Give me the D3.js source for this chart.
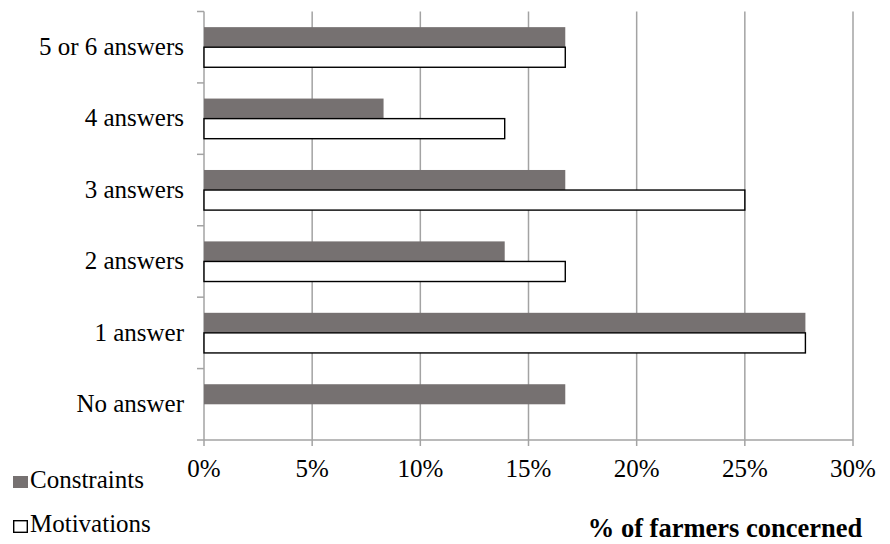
<!DOCTYPE html>
<html>
<head>
<meta charset="utf-8">
<script src="https://cdn.jsdelivr.net/npm/d3@7"></script>
<style>
  html, body { margin: 0; padding: 0; background: #fff; }
  svg { display: block; }
</style>
</head>
<body>
<svg id="chart" width="890" height="544"></svg>
<script>
// ---- data ----
const categories = ["5 or 6 answers", "4 answers", "3 answers", "2 answers", "1 answer", "No answer"];
const seriesNames = ["Constraints", "Motivations"];
const constraints = [16.7, 8.3, 16.7, 13.9, 27.8, 16.7];
const motivations = [16.7, 13.9, 25.0, 16.7, 27.8, 0];
const xTicks = [0, 5, 10, 15, 20, 25, 30];
const xTitle = "% of farmers concerned";

(function () {
const FONT = "'Liberation Serif', 'DejaVu Serif', 'Times New Roman', Times, serif";
const svg = d3.select("#chart").attr("font-family", FONT);
const pLeft = 204, pRight = 853, pTop = 11.5, pBottom = 440;
const colors = { Constraints: "#767171", Motivations: "#ffffff" };
const FS = 25;

const x = d3.scaleLinear().domain([0, 30]).range([pLeft, pRight]);
const y = d3.scaleBand().domain(categories).range([pTop, pBottom]).padding(0);
const ySub = d3.scaleBand().domain(seriesNames).range([0, y.bandwidth()]).paddingInner(0).paddingOuter(0.78);

const gridColor = "#a3a3a3";

// gridlines
svg.append("g").selectAll("line").data(xTicks.filter(d => d > 0)).join("line")
  .attr("x1", d => x(d)).attr("x2", d => x(d))
  .attr("y1", pTop).attr("y2", pBottom + 6)
  .attr("stroke", gridColor).attr("stroke-width", 1.5);

// axis lines
svg.append("line").attr("x1", pLeft - 7).attr("x2", pRight).attr("y1", pBottom).attr("y2", pBottom)
  .attr("stroke", gridColor).attr("stroke-width", 1.5);
svg.append("line").attr("x1", pLeft).attr("x2", pLeft).attr("y1", pTop).attr("y2", pBottom + 6)
  .attr("stroke", gridColor).attr("stroke-width", 1.5);

// y axis band boundary ticks
const boundaries = categories.map(c => y(c));
svg.append("g").selectAll("line").data(boundaries).join("line")
  .attr("x1", pLeft - 7).attr("x2", pLeft)
  .attr("y1", d => d).attr("y2", d => d)
  .attr("stroke", gridColor).attr("stroke-width", 1.5);

// x tick labels
svg.append("g").selectAll("text").data(xTicks).join("text")
  .attr("x", d => x(d)).attr("y", 477)
  .attr("text-anchor", "middle")
  .attr("font-family", FONT)
  .attr("font-size", FS)
  .text(d => d + "%");

// y labels
svg.append("g").selectAll("text").data(categories).join("text")
  .attr("x", 184).attr("y", d => y(d) + y.bandwidth() / 2)
  .attr("dy", "0.31em")
  .attr("text-anchor", "end")
  .attr("font-family", FONT)
  .attr("font-size", FS)
  .text(d => d);

// bars
const rows = categories.map((c, i) => ({ cat: c, values: [
  { s: "Constraints", v: constraints[i] },
  { s: "Motivations", v: motivations[i] }
]}));

const groups = svg.append("g").selectAll("g").data(rows).join("g")
  .attr("transform", d => `translate(0,${y(d.cat)})`);

groups.selectAll("rect").data(d => d.values.filter(e => e.v > 0)).join("rect")
  .attr("x", x(0))
  .attr("y", d => ySub(d.s))
  .attr("width", d => x(d.v) - x(0))
  .attr("height", ySub.bandwidth())
  .attr("fill", d => colors[d.s])
  .attr("stroke", d => d.s === "Motivations" ? "#000" : "none")
  .attr("stroke-width", 1.4);

// legend
const legendY = [488, 532];
const leg = svg.append("g").selectAll("g").data(seriesNames).join("g")
  .attr("transform", (d, i) => `translate(13,${legendY[i]})`);
leg.append("rect")
  .attr("x", d => d === "Motivations" ? 0.7 : 0)
  .attr("y", d => d === "Motivations" ? -11.3 : -12)
  .attr("width", d => d === "Motivations" ? 13.6 : 15)
  .attr("height", d => d === "Motivations" ? 11.6 : 12)
  .attr("fill", d => colors[d])
  .attr("stroke", d => d === "Motivations" ? "#000" : "none")
  .attr("stroke-width", 1.4);
leg.append("text")
  .attr("x", 17).attr("y", 0)
  .attr("font-family", FONT)
  .attr("font-size", FS)
  .text(d => d);

// x title
svg.append("text")
  .attr("x", 725).attr("y", 537)
  .attr("text-anchor", "middle")
  .attr("font-family", FONT)
  .attr("font-size", 26.5)
  .attr("font-weight", "bold")
  .text(xTitle);
})();
</script>
</body>
</html>
